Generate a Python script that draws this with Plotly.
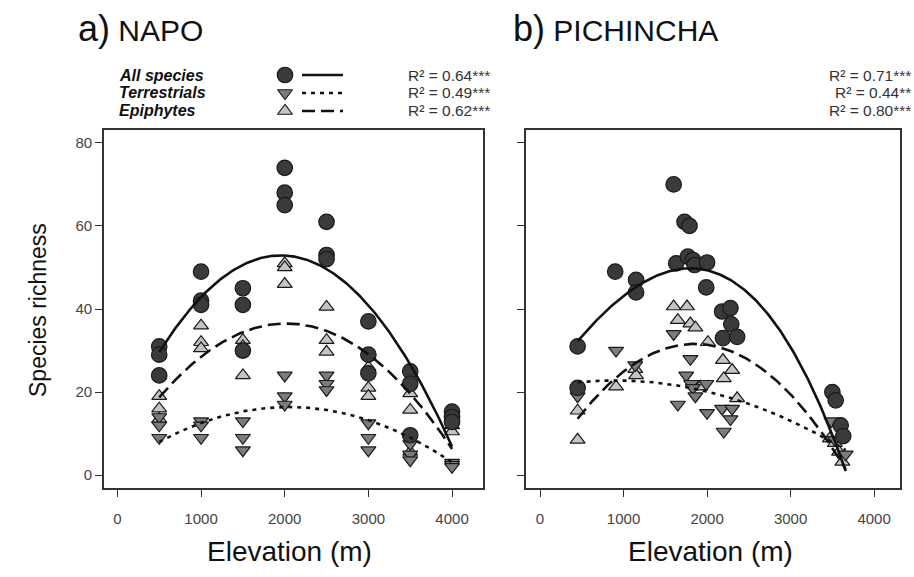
import numpy as np
import plotly.graph_objects as go

# ---------------- data ----------------
# Panel a) NAPO  (elevation m, species richness)
napo_all_elev = [500, 500, 500, 1000, 1000, 1000, 1500, 1500, 1500, 2000, 2000, 2000,
                 2500, 2500, 2500, 3000, 3000, 3000, 3500, 3500, 3500, 4000, 4000, 4000]
napo_all_rich = [31, 29, 24, 49, 42, 41, 45, 41, 30, 74, 68, 65,
                 61, 53, 52, 37, 29, 24.5, 25, 22, 9.6, 15.3, 14, 12.8]
napo_terr_elev = napo_all_elev
napo_terr_rich = [14, 12, 9, 13, 12, 9, 13, 9, 6, 24, 19, 17,
                  24, 22, 20.5, 12.5, 9, 6, 7.5, 5, 3.6, 3, 2.5, 2]
napo_epi_elev = napo_all_elev
napo_epi_rich = [19, 16, 13.5, 36, 32, 30.5, 32.5, 31, 24, 51, 50, 46,
                 40.5, 32.5, 29.7, 26, 21, 19, 19.7, 15.7, 5.6, 13, 12, 10.5]

# Panel b) PICHINCHA
pich_all_elev = [450, 450, 900, 1150, 1150, 1600, 1630, 1730, 1770, 1790, 1830, 1850,
                 1990, 2000, 2180, 2190, 2280, 2290, 2360, 3500, 3540, 3600, 3630]
pich_all_rich = [31, 21, 49, 47, 44, 70, 51, 61, 52.6, 60, 51.8, 50.6,
                 45.2, 51.2, 39.4, 33, 40.2, 36.3, 33.3, 20, 18, 12, 9.4]
pich_terr_elev = [450, 910, 1140, 1600, 1650, 1750, 1800, 1810, 1830, 1860, 1990, 2000,
                  2180, 2200, 2280, 2300, 3490, 3530, 3590, 3660]
pich_terr_rich = [19, 30, 26.5, 34, 17, 24, 28, 22, 21, 19, 22, 15,
                  16, 10.5, 13.5, 16, 13, 8.5, 11.5, 5]
pich_epi_elev = [450, 450, 910, 1140, 1150, 1600, 1650, 1760, 1800, 1860, 1920, 2010,
                 2190, 2200, 2300, 2360, 3470, 3530, 3580, 3620]
pich_epi_rich = [15.5, 8.5, 21.3, 25.5, 24, 40.6, 37.3, 40.6, 36.5, 35.5, 21.3, 32,
                 27.7, 23.3, 25.3, 18.5, 8.8, 7.7, 5.6, 3.2]

# Polynomial fits: [peak elevation (m), peak richness, curvature, cubic term]
fit_napo_all = [1955, 52.9, 11.0, 0.0]
fit_napo_terr = [2050, 16.4, 3.5, 0.0]
fit_napo_epi = [2020, 36.5, 7.7, 0.0]
fit_pich_all = [1800, 49.8, 11.5, -1.4]
fit_pich_terr = [900, 22.8, 2.2, 0.0]
fit_pich_epi = [1850, 31.6, 9.2, 0.0]

group_labels = ["All species", "Terrestrials", "Epiphytes"]
r2_napo = ["R² = 0.64***", "R² = 0.49***", "R² = 0.62***"]
r2_pich = ["R² = 0.71***", "R² = 0.44**", "R² = 0.80***"]
panel_titles = ["a)", "NAPO", "b)", "PICHINCHA"]
x_ticks = [0, 1000, 2000, 3000, 4000]
y_ticks = [0, 20, 40, 60, 80]

# ---------------- styles ----------------
W, H = 914, 577
C_ALL, C_TERR, C_EPI = "#3a3a3a", "#7c7c7c", "#c4c4c4"
EDGE = "#1a1a1a"
TXT = "Liberation Sans, Arial, sans-serif"
TICKF = "Liberation Sans Narrow, Arial Narrow, Liberation Sans, Arial, sans-serif"


def px(x):
    return x / W


def py(y):
    return 1 - y / H


def fit_curve(params, elev):
    x0, h, c, d = params
    xs = np.linspace(min(elev), max(elev), 200)
    t = (xs - x0) / 1000.0
    return xs, h - c * t ** 2 + d * t ** 3


fig = go.Figure()

panels = [
    ("x", "y", (napo_all_elev, napo_all_rich), (napo_terr_elev, napo_terr_rich),
     (napo_epi_elev, napo_epi_rich), (fit_napo_all, fit_napo_terr, fit_napo_epi)),
    ("x2", "y2", (pich_all_elev, pich_all_rich), (pich_terr_elev, pich_terr_rich),
     (pich_epi_elev, pich_epi_rich), (fit_pich_all, fit_pich_terr, fit_pich_epi)),
]

for xa, ya, allp, terr, epi, fits in panels:
    fig.add_trace(go.Scatter(x=epi[0], y=epi[1], mode="markers", xaxis=xa, yaxis=ya,
                             marker=dict(symbol="triangle-up", size=13, color=C_EPI,
                                         line=dict(color=EDGE, width=1.2)), showlegend=False))
    fig.add_trace(go.Scatter(x=terr[0], y=terr[1], mode="markers", xaxis=xa, yaxis=ya,
                             marker=dict(symbol="triangle-down", size=13, color=C_TERR,
                                         line=dict(color=EDGE, width=1.2)), showlegend=False))
    fig.add_trace(go.Scatter(x=allp[0], y=allp[1], mode="markers", xaxis=xa, yaxis=ya,
                             marker=dict(symbol="circle", size=15.5, color=C_ALL,
                                         line=dict(color=EDGE, width=1.2)), showlegend=False))
    allx = list(allp[0]) + list(terr[0]) + list(epi[0])
    for prm, dash in zip(fits, ["solid", "4px,5px", "13px,6px"]):
        xs, ys = fit_curve(prm, allx)
        fig.add_trace(go.Scatter(x=xs, y=ys, mode="lines", xaxis=xa, yaxis=ya,
                                 line=dict(color="#111111", width=2.6, dash=dash),
                                 showlegend=False, hoverinfo="skip"))

# legend glyphs on an overlay pixel axis
leg_y = [75, 93, 111]
fig.add_trace(go.Scatter(x=[285], y=[leg_y[0]], mode="markers", xaxis="x3", yaxis="y3",
                         marker=dict(symbol="circle", size=15.5, color=C_ALL, line=dict(color=EDGE, width=1.2)),
                         showlegend=False))
fig.add_trace(go.Scatter(x=[285], y=[leg_y[1]], mode="markers", xaxis="x3", yaxis="y3",
                         marker=dict(symbol="triangle-down", size=13, color=C_TERR, line=dict(color=EDGE, width=1.2)),
                         showlegend=False))
fig.add_trace(go.Scatter(x=[285], y=[leg_y[2]], mode="markers", xaxis="x3", yaxis="y3",
                         marker=dict(symbol="triangle-up", size=13, color=C_EPI, line=dict(color=EDGE, width=1.2)),
                         showlegend=False))
for yy, dash in zip(leg_y, ["solid", "4px,5px", "13px,6px"]):
    fig.add_trace(go.Scatter(x=[302, 343], y=[yy, yy], mode="lines", xaxis="x3", yaxis="y3",
                             line=dict(color="#111111", width=2.6, dash=dash), showlegend=False))

ann = []
# panel titles
ann.append(dict(x=px(76), y=py(28), xref="paper", yref="paper", xanchor="left", yanchor="middle",
                showarrow=False,
                text=f"<span style='font-size:36px'>{panel_titles[0]}</span> {panel_titles[1]}",
                font=dict(family=TXT, size=30, color="#111")))
ann.append(dict(x=px(511), y=py(28), xref="paper", yref="paper", xanchor="left", yanchor="middle",
                showarrow=False,
                text=f"<span style='font-size:36px'>{panel_titles[2]}</span> {panel_titles[3]}",
                font=dict(family=TXT, size=30, color="#111")))
for yy, lab, r_a, r_b in zip(leg_y, group_labels, r2_napo, r2_pich):
    ann.append(dict(x=px(117), y=py(yy), xref="paper", yref="paper", xanchor="left", yanchor="middle",
                    showarrow=False, text=f"<b><i>{lab}</i></b>",
                    font=dict(family=TXT, size=16, color="#111")))
    ann.append(dict(x=px(492), y=py(yy), xref="paper", yref="paper", xanchor="right", yanchor="middle",
                    showarrow=False, text=r_a, font=dict(family=TXT, size=15.5, color="#333")))
    ann.append(dict(x=px(913), y=py(yy), xref="paper", yref="paper", xanchor="right", yanchor="middle",
                    showarrow=False, text=r_b, font=dict(family=TXT, size=15.5, color="#333")))
# axis titles
ann.append(dict(x=px(38), y=py(310), xref="paper", yref="paper", xanchor="center", yanchor="middle",
                showarrow=False, text="Species richness", textangle=-90,
                font=dict(family=TXT, size=23, color="#111")))
ann.append(dict(x=px(289), y=py(551), xref="paper", yref="paper", xanchor="center", yanchor="middle",
                showarrow=False, text="Elevation (m)", font=dict(family=TXT, size=28, color="#111")))
ann.append(dict(x=px(710), y=py(551), xref="paper", yref="paper", xanchor="center", yanchor="middle",
                showarrow=False, text="Elevation (m)", font=dict(family=TXT, size=28, color="#111")))

axis_common = dict(showline=True, linecolor="#333", linewidth=1.6, mirror=True, ticks="outside",
                   ticklen=7, tickwidth=1.3, tickcolor="#333", showgrid=False, zeroline=False,
                   tickfont=dict(family=TICKF, size=15, color="#444"))

ydom = [py(488), py(130)]
fig.update_layout(
    width=W, height=H, margin=dict(l=0, r=0, t=0, b=0),
    paper_bgcolor="white", plot_bgcolor="rgba(0,0,0,0)", showlegend=False,
    xaxis=dict(domain=[px(104), px(483)], range=[-160, 4370], tickvals=x_ticks,
               ticklabelstandoff=9, **axis_common),
    yaxis=dict(domain=ydom, range=[-3.1, 83.1], tickvals=y_ticks, **axis_common),
    xaxis2=dict(domain=[px(526), px(900)], range=[-168, 4310], tickvals=x_ticks,
                ticklabelstandoff=9, anchor="y2", **axis_common),
    yaxis2=dict(domain=ydom, range=[-3.1, 83.1], tickvals=y_ticks, showticklabels=False,
                anchor="x2", **axis_common),
    xaxis3=dict(domain=[0, 1], range=[0, W], visible=False, anchor="y3"),
    yaxis3=dict(domain=[0, 1], range=[H, 0], visible=False, anchor="x3"),
    annotations=ann,
)

fig.write_html("out.html")
